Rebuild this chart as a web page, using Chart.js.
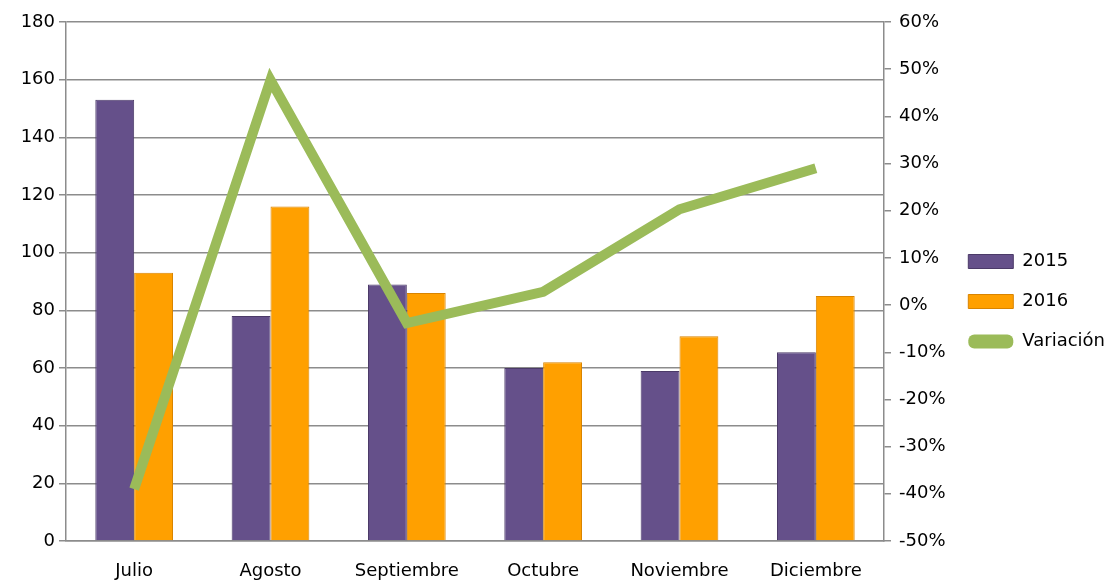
<!DOCTYPE html>
<html>
<head>
<meta charset="utf-8">
<script src="https://cdn.jsdelivr.net/npm/chart.js@4/dist/chart.umd.min.js"></script>
<style>
    html, body { margin: 0; padding: 0; background: #ffffff; }
    #wrap { width: 1115px; height: 581px; position: relative; }
</style>
</head>
<body>
<div id="wrap"><canvas id="chart"></canvas></div>
<script>
// Data
const months = ['Julio', 'Agosto', 'Septiembre', 'Octubre', 'Noviembre', 'Diciembre'];
const values2015 = [153, 78, 89, 60, 59, 65.5];
const values2016 = [93, 116, 86, 62, 71, 85];
const variation = [-0.39, 0.477, -0.038, 0.028, 0.203, 0.29];

const colors = {
    y2015: '#65508a',
    y2015Border: '#4b3a68',
    y2016: '#ffa000',
    y2016Border: '#d98400',
    variation: '#9bbb59',
    grid: '#8c8c8c'
};

const fontFamily = 'DejaVu Sans';
const fontSize = 18;
const plotLeft = 66;
const plotRight = 884;

const ctx = document.getElementById('chart').getContext('2d');

new Chart(ctx, {
    type: 'bar',
    data: {
        labels: months,
        datasets: [
            {
                type: 'line',
                label: 'Variación',
                data: variation,
                yAxisID: 'y1',
                borderColor: colors.variation,
                backgroundColor: colors.variation,
                borderWidth: 10,
                pointRadius: 0,
                tension: 0,
                order: 0
            },
            {
                label: '2015',
                data: values2015,
                yAxisID: 'y',
                backgroundColor: colors.y2015,
                borderColor: colors.y2015Border,
                borderWidth: 1,
                categoryPercentage: 0.57,
                barPercentage: 1,
                order: 1
            },
            {
                label: '2016',
                data: values2016,
                yAxisID: 'y',
                backgroundColor: colors.y2016,
                borderColor: colors.y2016Border,
                borderWidth: 1,
                categoryPercentage: 0.57,
                barPercentage: 1,
                order: 1
            }
        ]
    },
    options: {
        responsive: true,
        maintainAspectRatio: false,
        animation: false,
        layout: {
            padding: { top: 22, left: 0, right: 0, bottom: 0 }
        },
        plugins: {
            tooltip: { enabled: false },
            legend: {
                position: 'right',
                labels: {
                    color: '#000000',
                    font: { family: fontFamily, size: fontSize },
                    boxWidth: 45,
                    boxHeight: 14,
                    padding: 22,
                    generateLabels: (chart) => {
                        const items = Chart.defaults.plugins.legend.labels.generateLabels(chart);
                        // bars first, line last, like the original legend
                        const ordered = [items[1], items[2], items[0]];
                        ordered[2].lineWidth = 0;
                        ordered[2].borderRadius = 6;
                        return ordered;
                    }
                }
            }
        },
        scales: {
            x: {
                grid: { display: false },
                border: { display: true, color: colors.grid, width: 1.5 },
                ticks: {
                    color: '#000000',
                    font: { family: fontFamily, size: fontSize },
                    padding: 12,
                    maxRotation: 0
                },
                afterFit: (scale) => { scale.height = 40; }
            },
            y: {
                position: 'left',
                min: 0,
                max: 180,
                ticks: {
                    stepSize: 20,
                    color: '#000000',
                    font: { family: fontFamily, size: fontSize },
                    padding: 4
                },
                grid: {
                    color: colors.grid,
                    lineWidth: 1.5,
                    tickLength: 7
                },
                border: { color: colors.grid, width: 1.5 },
                afterFit: (scale) => { scale.width = plotLeft; }
            },
            y1: {
                position: 'right',
                min: -0.5,
                max: 0.6,
                ticks: {
                    stepSize: 0.1,
                    color: '#000000',
                    font: { family: fontFamily, size: fontSize },
                    padding: 8,
                    callback: (value) => Math.round(value * 100) + '%'
                },
                grid: {
                    drawOnChartArea: false,
                    color: colors.grid,
                    lineWidth: 1.5,
                    tickLength: 7
                },
                border: { color: colors.grid, width: 1.5 },
                afterFit: (scale) => {
                    const legend = scale.chart.legend;
                    const legendWidth = legend ? legend.width : 0;
                    scale.width = scale.chart.width - legendWidth - plotRight;
                }
            }
        }
    }
});
</script>
</body>
</html>
